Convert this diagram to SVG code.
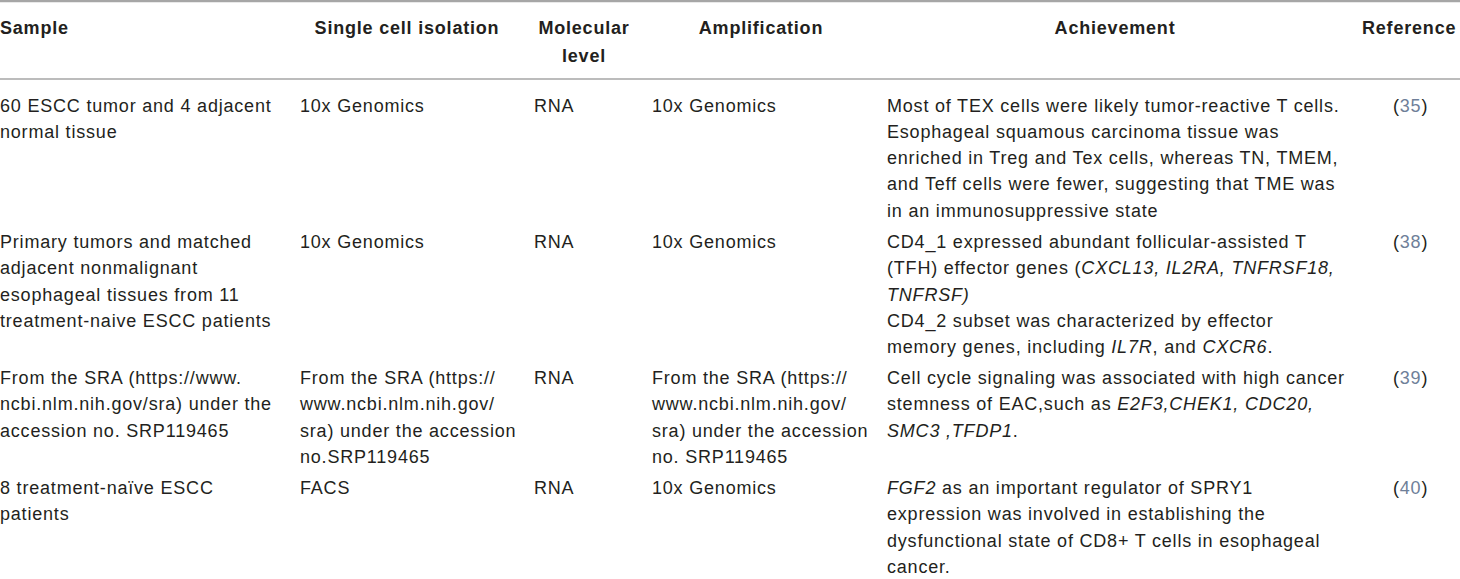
<svg xmlns="http://www.w3.org/2000/svg" width="1460" height="579" viewBox="0 0 1460 579">
<style>
text{font-family:"Liberation Sans",Arial,sans-serif;font-size:18px;letter-spacing:0.8px;fill:#231f20}
.h{font-weight:bold}
.m{text-anchor:middle}
.i{font-style:italic}
.r{fill:#6f7f99}
.rule{stroke:#a6a6a6;fill:none}
</style>
<rect width="1460" height="579" fill="#ffffff"/>
<g id="rules">
<line class="rule" x1="0" y1="1" x2="1460" y2="1" stroke-width="2.4"/>
<line class="rule" x1="0" y1="79" x2="1460" y2="79" stroke-width="1.6"/>
</g>
<g id="header">
<text class="h" x="0" y="33.5">Sample</text>
<text class="h m" x="407" y="33.5">Single cell isolation</text>
<text class="h m" x="584" y="33.5">Molecular</text>
<text class="h m" x="584" y="61.5">level</text>
<text class="h m" x="761" y="33.5">Amplification</text>
<text class="h m" x="1115" y="33.5">Achievement</text>
<text class="h" x="1362" y="33.5">Reference</text>
</g>
<g id="row1">
<text x="0" y="111.5">60 ESCC tumor and 4 adjacent</text>
<text x="0" y="137.8">normal tissue</text>
<text x="300" y="111.5">10x Genomics</text>
<text x="534" y="111.5">RNA</text>
<text x="652" y="111.5">10x Genomics</text>
<text x="887" y="111.5">Most of TEX cells were likely tumor-reactive T cells.</text>
<text x="887" y="137.8">Esophageal squamous carcinoma tissue was</text>
<text x="887" y="164.1">enriched in Treg and Tex cells, whereas TN, TMEM,</text>
<text x="887" y="190.4">and Teff cells were fewer, suggesting that TME was</text>
<text x="887" y="216.7">in an immunosuppressive state</text>
<text x="1393" y="111.5">(<tspan class="r">35</tspan>)</text>
</g>
<g id="row2">
<text x="0" y="248">Primary tumors and matched</text>
<text x="0" y="274.3">adjacent nonmalignant</text>
<text x="0" y="300.6">esophageal tissues from 11</text>
<text x="0" y="326.9">treatment-naive ESCC patients</text>
<text x="300" y="248">10x Genomics</text>
<text x="534" y="248">RNA</text>
<text x="652" y="248">10x Genomics</text>
<text x="887" y="248">CD4_1 expressed abundant follicular-assisted T</text>
<text x="887" y="274.3">(TFH) effector genes (<tspan class="i">CXCL13, IL2RA, TNFRSF18,</tspan></text>
<text x="887" y="300.6" class="i">TNFRSF)</text>
<text x="887" y="326.9">CD4_2 subset was characterized by effector</text>
<text x="887" y="353.2">memory genes, including <tspan class="i">IL7R</tspan>, and <tspan class="i">CXCR6</tspan>.</text>
<text x="1393" y="248">(<tspan class="r">38</tspan>)</text>
</g>
<g id="row3">
<text x="0" y="384">From the SRA (https://www.</text>
<text x="0" y="410.3">ncbi.nlm.nih.gov/sra) under the</text>
<text x="0" y="436.6">accession no. SRP119465</text>
<text x="300" y="384">From the SRA (https://</text>
<text x="300" y="410.3">www.ncbi.nlm.nih.gov/</text>
<text x="300" y="436.6">sra) under the accession</text>
<text x="300" y="462.9">no.SRP119465</text>
<text x="534" y="384">RNA</text>
<text x="652" y="384">From the SRA (https://</text>
<text x="652" y="410.3">www.ncbi.nlm.nih.gov/</text>
<text x="652" y="436.6">sra) under the accession</text>
<text x="652" y="462.9">no. SRP119465</text>
<text x="887" y="384">Cell cycle signaling was associated with high cancer</text>
<text x="887" y="410.3">stemness of EAC,such as <tspan class="i">E2F3,CHEK1, CDC20,</tspan></text>
<text x="887" y="436.6"><tspan class="i">SMC3 ,TFDP1</tspan>.</text>
<text x="1393" y="384">(<tspan class="r">39</tspan>)</text>
</g>
<g id="row4">
<text x="0" y="494">8 treatment-naïve ESCC</text>
<text x="0" y="520.3">patients</text>
<text x="300" y="494">FACS</text>
<text x="534" y="494">RNA</text>
<text x="652" y="494">10x Genomics</text>
<text x="887" y="494"><tspan class="i">FGF2</tspan> as an important regulator of SPRY1</text>
<text x="887" y="520.3">expression was involved in establishing the</text>
<text x="887" y="546.6">dysfunctional state of CD8+ T cells in esophageal</text>
<text x="887" y="572.9">cancer.</text>
<text x="1393" y="494">(<tspan class="r">40</tspan>)</text>
</g>
</svg>
